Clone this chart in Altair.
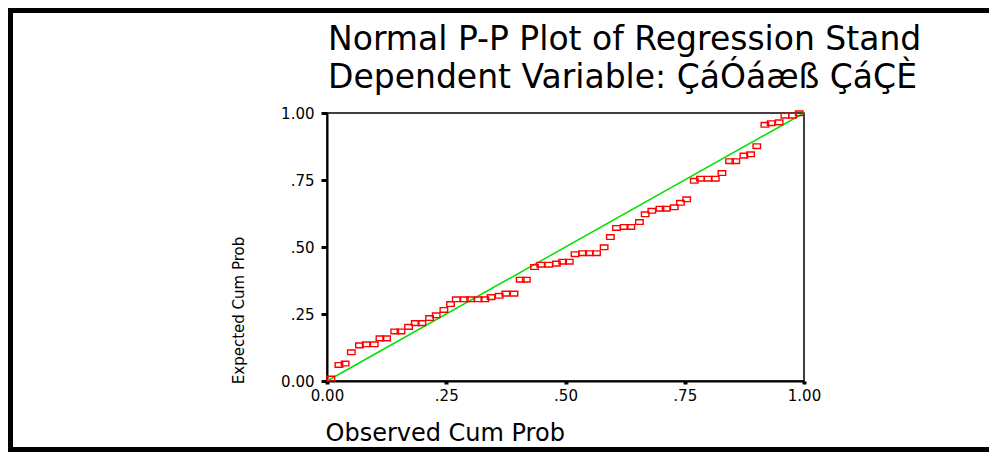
import altair as alt
import pandas as pd

# Observed cumulative probability (x) and expected cumulative probability (y)
observed = [0.008, 0.025, 0.038, 0.051, 0.068, 0.082, 0.099, 0.111, 0.125, 0.142,
            0.155, 0.171, 0.185, 0.199, 0.215, 0.229, 0.245, 0.259, 0.271, 0.288,
            0.301, 0.317, 0.331, 0.344, 0.361, 0.375, 0.392, 0.405, 0.418, 0.435,
            0.448, 0.465, 0.481, 0.494, 0.508, 0.520, 0.536, 0.550, 0.565, 0.581,
            0.594, 0.607, 0.623, 0.637, 0.655, 0.667, 0.681, 0.698, 0.711, 0.728,
            0.741, 0.754, 0.770, 0.783, 0.799, 0.814, 0.828, 0.844, 0.857, 0.874,
            0.888, 0.901, 0.918, 0.931, 0.948, 0.960, 0.976, 0.990]
expected = [0.009, 0.060, 0.065, 0.107, 0.133, 0.137, 0.137, 0.159, 0.159, 0.185,
            0.185, 0.202, 0.216, 0.216, 0.235, 0.245, 0.265, 0.287, 0.305, 0.305,
            0.305, 0.305, 0.305, 0.313, 0.318, 0.326, 0.326, 0.378, 0.378, 0.425,
            0.434, 0.434, 0.438, 0.445, 0.445, 0.473, 0.477, 0.477, 0.477, 0.499,
            0.537, 0.571, 0.575, 0.575, 0.593, 0.622, 0.635, 0.643, 0.643, 0.648,
            0.665, 0.678, 0.747, 0.755, 0.755, 0.755, 0.776, 0.820, 0.820, 0.841,
            0.846, 0.876, 0.956, 0.962, 0.965, 0.990, 0.990, 0.999]

# Reference diagonal
ref_x = [0.0, 1.0]
ref_y = [0.0, 1.0]

tick_values = [0.0, 0.25, 0.5, 0.75, 1.0]
tick_labels = ["0.00", ".25", ".50", ".75", "1.00"]

# Title lines as far as the reference shows them (they run off its right edge)
title_lines = ["Normal P-P Plot of Regression Stand",
               "Dependent Variable: ÇáÓáæß ÇáÇÈ"]
x_title = "Observed Cum Prob"
y_title = "Expected Cum Prob"

FONT = "DejaVu Sans"

label_expr = " : ".join(
    f"datum.value == {v} ? '{l}'" for v, l in zip(tick_values, tick_labels)
) + " : ''"

pts = pd.DataFrame({"observed": observed, "expected": expected})
diag = pd.DataFrame({"observed": ref_x, "expected": ref_y})
one = pd.DataFrame({"k": [0]})

xscale = alt.Scale(domain=[0, 1], nice=False, zero=False)
yscale = alt.Scale(domain=[0, 1], nice=False, zero=False)

x_axis = alt.Axis(
    values=tick_values, labelExpr=label_expr, title=x_title,
    titleX=-2, titleY=52, titleAlign="left", titleBaseline="middle",
    titleFont=FONT, titleFontSize=24, titleFontWeight="normal", titleColor="black",
    labelFont=FONT, labelFontSize=15, labelColor="black", labelFlush=False,
    labelPadding=4, tickSize=3, tickWidth=4, tickColor="black",
    domainColor="black", domainWidth=2, grid=False,
)
y_axis = alt.Axis(
    values=tick_values, labelExpr=label_expr, title=y_title,
    titleAngle=270, titleX=-89, titleY=197, titleAlign="center", titleBaseline="middle",
    titleFont=FONT, titleFontSize=15, titleFontWeight="normal", titleColor="black",
    labelFont=FONT, labelFontSize=15, labelColor="black",
    labelPadding=7, tickSize=6, tickWidth=3, tickColor="black",
    domainColor="black", domainWidth=2, grid=False,
)

# outer frame of the figure as thin filled bars (top, left, bottom; right edge lies beyond the picture)
frame_top = alt.Chart(one).mark_rect(color="black", strokeWidth=0).encode(
    x=alt.value(-319), x2=alt.value(662), y=alt.value(-105), y2=alt.value(-100)
)
frame_left = alt.Chart(one).mark_rect(color="black", strokeWidth=0).encode(
    x=alt.value(-319), x2=alt.value(-314), y=alt.value(-105), y2=alt.value(339)
)
frame_bottom = alt.Chart(one).mark_rect(color="black", strokeWidth=0).encode(
    x=alt.value(-319), x2=alt.value(662), y=alt.value(334), y2=alt.value(339)
)

title1 = alt.Chart(one).mark_text(
    text=title_lines[0], align="left", baseline="alphabetic",
    font=FONT, fontSize=33, color="black",
).encode(x=alt.value(1), y=alt.value(-63))

title2 = alt.Chart(one).mark_text(
    text=title_lines[1], align="left", baseline="alphabetic",
    font=FONT, fontSize=33, color="black",
).encode(x=alt.value(1), y=alt.value(-25))

line = alt.Chart(diag).mark_line(color="#00e000", strokeWidth=1.5).encode(
    x=alt.X("observed:Q", scale=xscale, axis=x_axis),
    y=alt.Y("expected:Q", scale=yscale, axis=y_axis),
)

points = alt.Chart(pts).mark_point(
    shape="M-1,-0.62L1,-0.62L1,0.62L-1,0.62Z", size=56, filled=False,
    color="#ff0000", strokeWidth=1.4, opacity=1,
).encode(
    x=alt.X("observed:Q", scale=xscale, axis=x_axis),
    y=alt.Y("expected:Q", scale=yscale, axis=y_axis),
)

chart = alt.layer(frame_top, frame_left, frame_bottom, title1, title2, line, points).properties(
    width=477, height=268,
    autosize=alt.AutoSizeParams(type="none"),
    padding={"left": 319, "top": 105, "right": 185, "bottom": 71},
    background="white",
).configure_view(stroke="black", strokeWidth=1.5)

chart.save("out.html", embed_options={"renderer": "svg", "actions": False})
